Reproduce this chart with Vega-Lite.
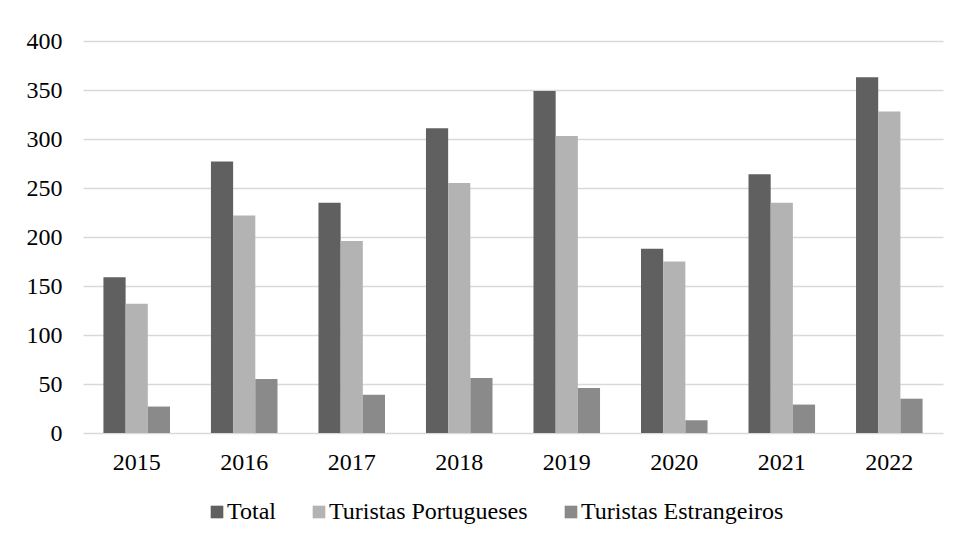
{
  "$schema": "https://vega.github.io/schema/vega-lite/v6.json",
  "width": 860,
  "height": 392,
  "autosize": {"type": "none"},
  "padding": {"left": 83, "top": 41, "right": 15, "bottom": 110},
  "background": "#ffffff",
  "data": {
    "values": [
      {"ano": "2015", "serie": "Total", "valor": 159},
      {"ano": "2015", "serie": "Turistas Portugueses", "valor": 132},
      {"ano": "2015", "serie": "Turistas Estrangeiros", "valor": 27},
      {"ano": "2016", "serie": "Total", "valor": 277},
      {"ano": "2016", "serie": "Turistas Portugueses", "valor": 222},
      {"ano": "2016", "serie": "Turistas Estrangeiros", "valor": 55},
      {"ano": "2017", "serie": "Total", "valor": 235},
      {"ano": "2017", "serie": "Turistas Portugueses", "valor": 196},
      {"ano": "2017", "serie": "Turistas Estrangeiros", "valor": 39},
      {"ano": "2018", "serie": "Total", "valor": 311},
      {"ano": "2018", "serie": "Turistas Portugueses", "valor": 255},
      {"ano": "2018", "serie": "Turistas Estrangeiros", "valor": 56},
      {"ano": "2019", "serie": "Total", "valor": 349},
      {"ano": "2019", "serie": "Turistas Portugueses", "valor": 303},
      {"ano": "2019", "serie": "Turistas Estrangeiros", "valor": 46},
      {"ano": "2020", "serie": "Total", "valor": 188},
      {"ano": "2020", "serie": "Turistas Portugueses", "valor": 175},
      {"ano": "2020", "serie": "Turistas Estrangeiros", "valor": 13},
      {"ano": "2021", "serie": "Total", "valor": 264},
      {"ano": "2021", "serie": "Turistas Portugueses", "valor": 235},
      {"ano": "2021", "serie": "Turistas Estrangeiros", "valor": 29},
      {"ano": "2022", "serie": "Total", "valor": 363},
      {"ano": "2022", "serie": "Turistas Portugueses", "valor": 328},
      {"ano": "2022", "serie": "Turistas Estrangeiros", "valor": 35}
    ]
  },
  "mark": {"type": "bar"},
  "encoding": {
    "x": {
      "field": "ano",
      "type": "nominal",
      "scale": {"paddingInner": 0.381, "paddingOuter": 0.19},
      "axis": {
        "title": null,
        "labelAngle": 0,
        "ticks": false,
        "tickSize": 0,
        "domain": false,
        "labelPadding": 17,
        "labelFontSize": 24
      }
    },
    "xOffset": {
      "field": "serie",
      "type": "nominal",
      "sort": ["Total", "Turistas Portugueses", "Turistas Estrangeiros"]
    },
    "y": {
      "field": "valor",
      "type": "quantitative",
      "scale": {"domain": [0, 400], "nice": false},
      "axis": {
        "title": null,
        "values": [0, 50, 100, 150, 200, 250, 300, 350, 400],
        "ticks": false,
        "tickSize": 0,
        "domain": false,
        "labelPadding": 21,
        "labelFontSize": 24,
        "gridColor": "#d9d9d9",
        "gridWidth": 1.3
      }
    },
    "color": {
      "field": "serie",
      "type": "nominal",
      "scale": {
        "domain": ["Total", "Turistas Portugueses", "Turistas Estrangeiros"],
        "range": ["#606060", "#b3b3b3", "#8a8a8a"]
      },
      "legend": {
        "title": null,
        "orient": "none",
        "legendX": 122,
        "legendY": 459,
        "direction": "horizontal",
        "symbolType": "square",
        "symbolSize": 160,
        "symbolStrokeWidth": 0,
        "labelFontSize": 24,
        "labelOffset": -2,
        "columnPadding": 31
      }
    }
  },
  "config": {
    "font": "Liberation Serif",
    "view": {"stroke": null},
    "axis": {"labelFont": "Liberation Serif", "labelColor": "#000000"},
    "legend": {"labelFont": "Liberation Serif", "labelColor": "#000000", "labelLimit": 400}
  }
}
